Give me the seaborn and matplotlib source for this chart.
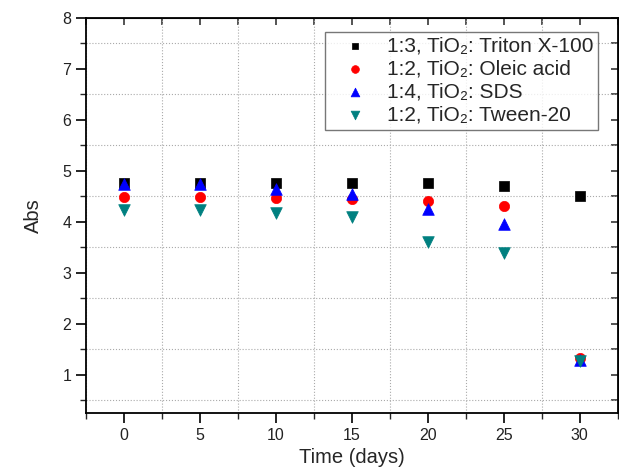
import numpy as np
import pandas as pd
import matplotlib
matplotlib.use('Agg')
import matplotlib.pyplot as plt
from matplotlib.ticker import MultipleLocator, NullFormatter
import seaborn as sns

# Values
days = [0, 5, 10, 15, 20, 25, 30]
triton = [4.77, 4.77, 4.77, 4.77, 4.76, 4.71, 4.51]
oleic = [4.48, 4.48, 4.46, 4.44, 4.40, 4.31, 1.34]
sds = [4.75, 4.74, 4.65, 4.55, 4.26, 3.96, 1.30]
tween = [4.24, 4.24, 4.18, 4.10, 3.60, 3.39, 1.28]

labels = ['1:3, TiO\u2082: Triton X-100',
          '1:2, TiO\u2082: Oleic acid',
          '1:4, TiO\u2082: SDS',
          '1:2, TiO\u2082: Tween-20']
colors = ['#000000', '#ff0000', '#0000ff', '#008080']
markers = ['s', 'o', '^', 'v']
sizes = [45, 55, 70, 70]

frames = []
for lab, vals in zip(labels, [triton, oleic, sds, tween]):
    frames.append(pd.DataFrame({'day': days, 'abs': vals, 'series': lab}))
df = pd.concat(frames, ignore_index=True)

sns.set_style('ticks')
plt.rcParams['font.family'] = ['Arial', 'Liberation Sans', 'DejaVu Sans']

fig = plt.figure(figsize=(6.19, 4.69), dpi=100)
ax = fig.add_axes([0.139, 0.119, 0.859, 0.843])

for lab, col, mk, sz in zip(labels, colors, markers, sizes):
    sub = df[df['series'] == lab]
    sns.scatterplot(data=sub, x='day', y='abs', color=col, marker=mk, s=sz,
                    edgecolor=col, linewidth=0.5, label=lab, ax=ax, zorder=3)

ax.set_xlim(-2.5, 32.5)
ax.set_ylim(0.25, 8)
ax.xaxis.set_major_locator(MultipleLocator(5))
ax.xaxis.set_minor_locator(MultipleLocator(2.5))
ax.yaxis.set_major_locator(MultipleLocator(1))
ax.yaxis.set_minor_locator(MultipleLocator(0.5))
ax.set_yticks(range(1, 9))

ax.grid(which='minor', linestyle=':', color='#aaaaaa', linewidth=0.8)
ax.grid(which='major', visible=False)

for side in ['left', 'bottom', 'top', 'right']:
    ax.spines[side].set_visible(True)
    ax.spines[side].set_linewidth(1.3)
    ax.spines[side].set_color('black')

ax.tick_params(axis='both', which='major', direction='out', length=7, width=1.2,
               labelsize=11.5, colors='black', labelcolor='#222222')
ax.tick_params(axis='both', which='minor', direction='out', length=4.5, width=1.0)

# inward ticks on top and right
top = ax.secondary_xaxis('top')
top.xaxis.set_major_locator(MultipleLocator(5))
top.xaxis.set_minor_locator(MultipleLocator(2.5))
top.xaxis.set_major_formatter(NullFormatter())
top.tick_params(which='both', direction='in', length=5, width=1.1)
right = ax.secondary_yaxis('right')
right.yaxis.set_major_locator(MultipleLocator(1))
right.yaxis.set_minor_locator(MultipleLocator(0.5))
right.yaxis.set_major_formatter(NullFormatter())
right.tick_params(which='both', direction='in', length=5, width=1.1)

ax.set_xlabel('Time (days)', fontsize=14.5, labelpad=4)
ax.set_ylabel('Abs', fontsize=14.5, labelpad=14)

leg = ax.legend(loc='upper right', bbox_to_anchor=(0.97, 0.975), fontsize=15,
                frameon=True, fancybox=False, edgecolor='#555555',
                handletextpad=0.25, handlelength=2.5, borderpad=0.22,
                labelspacing=0.2, borderaxespad=0.2, markerscale=0.75)
leg.get_frame().set_linewidth(1.0)

fig.savefig('out.png', dpi=100)
